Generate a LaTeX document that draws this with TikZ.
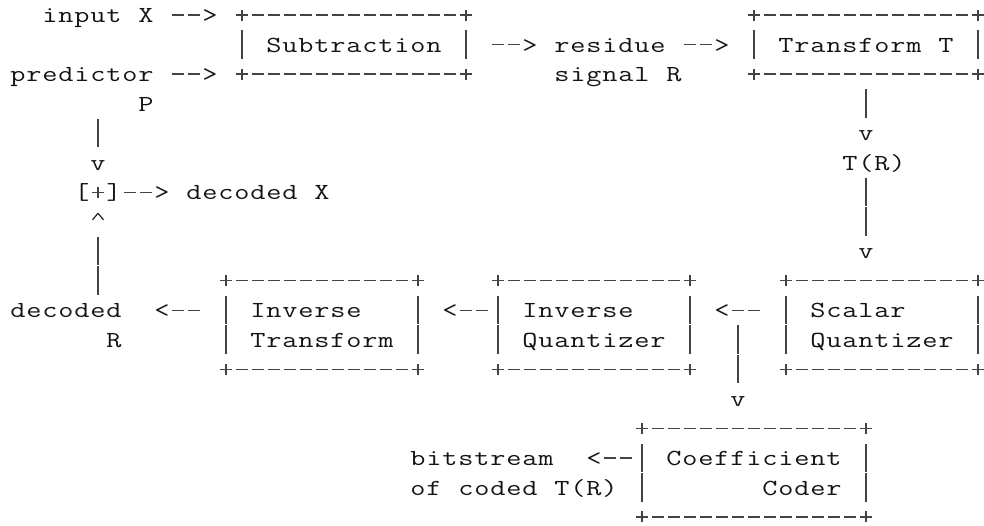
\documentclass[tikz,border=0pt]{standalone}
\usepackage{graphicx}
\usepackage{pict2e}
\definecolor{ink}{HTML}{141414}
\definecolor{edgec}{HTML}{444444}
\newcommand\ascbar{\makebox[16pt][c]{\textcolor{edgec}{\rule[-6.5pt]{1.3pt}{28.5pt}}}}
\newcommand\ascdash{\makebox[16pt][c]{\textcolor{edgec}{\rule[7pt]{11.5pt}{1.3pt}}}}
\newcommand\ascplus{\makebox[16pt][c]{\textcolor{edgec}{\rule[7pt]{12pt}{1.3pt}\hspace{-6.65pt}\rule[2.1pt]{1.3pt}{11pt}\hspace{5.35pt}}}}
\newcommand\asccaret{\makebox[16pt][c]{\textcolor{ink}{\setlength\unitlength{1pt}\linethickness{1.1pt}\begin{picture}(11,16)\put(0,9.5){\line(5,6){5.5}}\put(5.5,16.1){\line(5,-6){5.5}}\end{picture}}}}
\ExplSyntaxOn
\NewDocumentCommand \asc { m }
  {
    \str_map_inline:nn {#1}
      {
        \str_case:nnF {##1}
          {
            { | } { \ascbar }
            { - } { \ascdash }
            { + } { \ascplus }
            { ^ } { \asccaret }
          }
          { \makebox[16pt][c]{\scalebox{1.28}[1]{##1}} }
      }
  }
\ExplSyntaxOff
\tikzset{ascii/.style={anchor=base west, inner sep=0pt, outer sep=0pt, text=ink,
  font=\fontsize{23pt}{26pt}\selectfont\ttfamily}}
\newcommand\asctext[4]{\node[ascii] (#1) at ({10pt+16pt*#2},{-22.7pt-29.52pt*#3}) {\asc{#4}};}
\begin{document}
\begin{tikzpicture}
\useasboundingbox (0,0) rectangle (984pt,-525pt);
% line 0-2
\asctext{inX}{2}{0}{input X -->}
\asctext{subTop}{14}{0}{+-------------+}
\asctext{trTop}{46}{0}{+-------------+}
\asctext{subRow}{14}{1}{| Subtraction | --> residue --> | Transform T |}
\asctext{pred}{0}{2}{predictor --> +-------------+}
\asctext{sigR}{34}{2}{signal R}
\asctext{trBot}{46}{2}{+-------------+}
% line 3-8
\asctext{predP}{8}{3}{P}
\asctext{trBarA}{53}{3}{|}
\asctext{lBarA}{5}{4}{|}
\asctext{trArr}{53}{4}{v}
\asctext{lArrA}{5}{5}{v}
\asctext{tR}{52}{5}{T(R)}
\asctext{sumX}{4}{6}{[+]--> decoded X}
\asctext{trBarB}{53}{6}{|}
\asctext{lArrB}{5}{7}{^}
\asctext{trBarC}{53}{7}{|}
\asctext{lBarB}{5}{8}{|}
\asctext{sqArr}{53}{8}{v}
% line 9-12
\asctext{lBarC}{5}{9}{|}
\asctext{itTop}{13}{9}{+-----------+}
\asctext{iqTop}{30}{9}{+-----------+}
\asctext{sqTop}{48}{9}{+-----------+}
\asctext{decR}{0}{10}{decoded}
\asctext{itRowA}{9}{10}{<-- | Inverse}
\asctext{iqRowA}{25}{10}{| <--| Inverse}
\asctext{sqArrL}{42}{10}{| <--}
\asctext{sqRowA}{48}{10}{| Scalar}
\asctext{sqRight}{60}{10}{|}
\asctext{decRR}{6}{11}{R}
\asctext{itRowB}{13}{11}{| Transform |}
\asctext{iqRowB}{30}{11}{| Quantizer |}
\asctext{mBarA}{45}{11}{|}
\asctext{sqRowB}{48}{11}{| Quantizer |}
\asctext{itBot}{13}{12}{+-----------+}
\asctext{iqBot}{30}{12}{+-----------+}
\asctext{mBarB}{45}{12}{|}
\asctext{sqBot}{48}{12}{+-----------+}
% line 13-17
\asctext{mArr}{45}{13}{v}
\asctext{ccTop}{39}{14}{+-------------+}
\asctext{bits}{25}{15}{bitstream}
\asctext{ccRowA}{36}{15}{<--| Coefficient |}
\asctext{coded}{25}{16}{of coded T(R) |}
\asctext{ccRowB}{47}{16}{Coder |}
\asctext{ccBot}{39}{17}{+-------------+}
\end{tikzpicture}
\end{document}
